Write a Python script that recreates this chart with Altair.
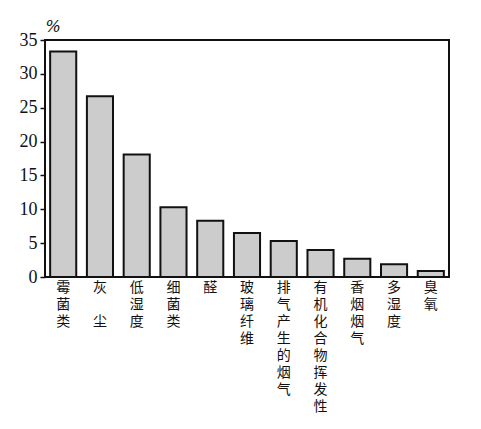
import altair as alt
import pandas as pd

categories = ["霉菌类", "灰 尘", "低湿度", "细菌类", "醛", "玻璃纤维", "排气产生的烟气",
              "有机化合物挥发性", "香烟烟气", "多湿度", "臭氧"]
values = [33.3, 26.7, 18.1, 10.3, 8.3, 6.5, 5.3, 4.0, 2.7, 1.9, 0.9]
y_ticks = [0, 5, 10, 15, 20, 25, 30, 35]

df = pd.DataFrame({"cat": categories, "val": values})

chart = alt.Chart(df).mark_bar(
    fill="#cccccc", stroke="#111111", strokeWidth=2
).encode(
    x=alt.X("cat:N", sort=categories,
            scale=alt.Scale(paddingInner=0.29, paddingOuter=0.14),
            axis=alt.Axis(title=None, labelAngle=0, ticks=False, domain=False,
                          labelExpr="split(replace(datum.label, ' ', '\u200b'), '')",
                          labelFont="Noto Sans CJK SC", labelFontSize=14,
                          labelLineHeight=17, labelBaseline="top",
                          labelPadding=3, labelColor="#111111")),
    y=alt.Y("val:Q", scale=alt.Scale(domain=[0, 35], nice=False),
            axis=alt.Axis(values=y_ticks, grid=False, tickSize=5, tickWidth=1.5,
                          tickColor="#111111", domain=False,
                          labelFont="Liberation Sans Narrow", labelFontSize=18,
                          labelColor="#111111", labelPadding=3,
                          title="%", titleAngle=0, titleX=0, titleY=-6,
                          titleAlign="left", titleBaseline="bottom",
                          titleFont="DejaVu Serif", titleFontSize=16,
                          titleFontStyle="italic", titleFontWeight="normal",
                          titleColor="#111111"))
).properties(
    width=404, height=237,
    autosize=alt.AutoSizeParams(type="none"),
    padding={"left": 37, "top": 32, "right": 24, "bottom": 150}
).configure_view(
    stroke="#111111", strokeWidth=2
)

chart.save("out.html", embed_options={"renderer": "svg", "actions": False})
